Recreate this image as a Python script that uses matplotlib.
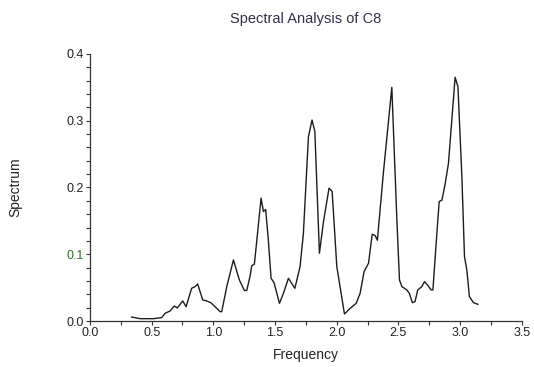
import matplotlib.pyplot as plt
from matplotlib.ticker import MultipleLocator

plt.rcParams['font.family'] = ['Liberation Sans', 'DejaVu Sans']

# spectrum of C8, read as (frequency, spectrum) pairs
freq = [0.338, 0.406, 0.514, 0.581, 0.608, 0.649, 0.684, 0.708, 0.752, 0.779,
        0.824, 0.852, 0.873, 0.914, 0.940, 0.979, 1.014, 1.055, 1.068, 1.109,
        1.163, 1.211, 1.252, 1.271, 1.297, 1.311, 1.333, 1.357, 1.387, 1.406,
        1.424, 1.446, 1.468, 1.492, 1.536, 1.568, 1.609, 1.661, 1.703, 1.730,
        1.771, 1.800, 1.823, 1.860, 1.893, 1.938, 1.963, 2.001, 2.063, 2.109,
        2.158, 2.190, 2.222, 2.258, 2.288, 2.312, 2.330, 2.378, 2.447, 2.488,
        2.509, 2.529, 2.569, 2.589, 2.614, 2.635, 2.657, 2.690, 2.712, 2.736,
        2.766, 2.780, 2.812, 2.831, 2.853, 2.880, 2.906, 2.960, 2.983, 3.015,
        3.036, 3.055, 3.076, 3.109, 3.145]
spec = [0.006, 0.0035, 0.0035, 0.005, 0.0115, 0.015, 0.0225, 0.0195, 0.030, 0.0215,
        0.049, 0.0515, 0.0555, 0.0315, 0.0305, 0.0275, 0.0215, 0.014, 0.014, 0.0515,
        0.0915, 0.0615, 0.0455, 0.046, 0.0665, 0.0825, 0.0855, 0.129, 0.184, 0.164,
        0.167, 0.121, 0.064, 0.0575, 0.0265, 0.0415, 0.064, 0.049, 0.0815, 0.131,
        0.276, 0.301, 0.284, 0.1015, 0.149, 0.199, 0.194, 0.0815, 0.0105, 0.019,
        0.0265, 0.0415, 0.074, 0.0865, 0.130, 0.128, 0.121, 0.221, 0.350, 0.151,
        0.0615, 0.0515, 0.0465, 0.0415, 0.0275, 0.029, 0.0465, 0.0515, 0.059, 0.054,
        0.0465, 0.0465, 0.131, 0.179, 0.181, 0.206, 0.236, 0.365, 0.351, 0.216,
        0.0965, 0.0765, 0.0365, 0.0275, 0.025]

xticks = [0.0, 0.5, 1.0, 1.5, 2.0, 2.5, 3.0, 3.5]
yticks = [0.0, 0.1, 0.2, 0.3, 0.4]

fig = plt.figure(figsize=(5.34, 3.67), dpi=100)
ax = fig.add_axes([0.1685, 0.1253, 0.8085, 0.7277])

ax.plot(freq, spec, color='#1c1c1c', linewidth=1.0)

ax.set_xlim(0, 3.5)
ax.set_ylim(0, 0.4)
ax.set_xticks(xticks, [f'{v:.1f}' for v in xticks])
ax.set_yticks(yticks, [f'{v:.1f}' for v in yticks])
ax.xaxis.set_minor_locator(MultipleLocator(0.25))
ax.yaxis.set_minor_locator(MultipleLocator(0.02))

for s in ['top', 'right']:
    ax.spines[s].set_visible(False)
for s in ['left', 'bottom']:
    ax.spines[s].set_color('#333333')
    ax.spines[s].set_linewidth(0.9)

ax.tick_params(which='both', direction='out', length=3, width=0.8,
               colors='#333333', labelsize=9, labelcolor='#222222', pad=1.5)
ax.get_yticklabels()[1].set_color('#2e6a2e')

ax.set_xlabel('Frequency', fontsize=10, color='#222222', labelpad=6)
ax.set_ylabel('Spectrum', fontsize=10, color='#222222', labelpad=32)
fig.text(0.573, 0.947, 'Spectral Analysis of C8', ha='center', va='center',
         fontsize=10.5, color='#303048')

fig.savefig('out.png', dpi=100)
